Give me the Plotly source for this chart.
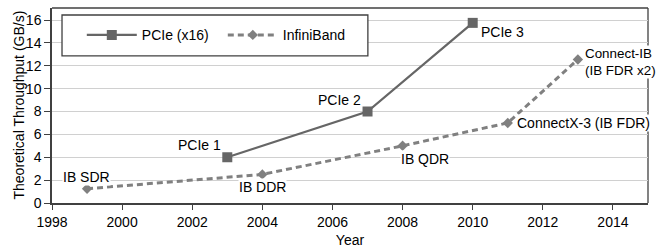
import plotly.graph_objects as go

# Data
pcie_years = [2003, 2007, 2010]
pcie_tput = [4, 8, 15.75]
pcie_labels = ["PCIe 1", "PCIe 2", "PCIe 3"]

ib_years = [1999, 2004, 2008, 2011, 2013]
ib_tput = [1.25, 2.5, 5, 7, 12.55]
ib_labels = ["IB SDR", "IB DDR", "IB QDR", "ConnectX-3 (IB FDR)", "Connect-IB<br>(IB FDR x2)"]

x_ticks = [1998, 2000, 2002, 2004, 2006, 2008, 2010, 2012, 2014]
y_ticks = [0, 2, 4, 6, 8, 10, 12, 14, 16]

FONT = "Liberation Sans, Arial, sans-serif"
FS = 14

fig = go.Figure()
fig.add_trace(go.Scatter(
    x=pcie_years, y=pcie_tput, name="PCIe (x16)", mode="lines+markers",
    line=dict(color="#666666", width=2.25),
    marker=dict(symbol="square", size=10, color="#666666"),
))
fig.add_trace(go.Scatter(
    x=ib_years, y=ib_tput, name="InfiniBand", mode="lines+markers",
    line=dict(color="#808080", width=3, dash="6px,4px"),
    marker=dict(symbol="diamond", size=8, color="#808080"),
))

# point labels: (xanchor, yanchor, xshift, yshift, size)
pcie_pos = [("right", "bottom", -4, 2, FS), ("right", "bottom", -5, 2, FS), ("left", "top", 6, 1, FS)]
for x, y, t, (xa, ya, xs, ys, fs) in zip(pcie_years, pcie_tput, pcie_labels, pcie_pos):
    fig.add_annotation(x=x, y=y, text=t, showarrow=False, xanchor=xa, yanchor=ya,
                       xshift=xs, yshift=ys, font=dict(size=fs, color="#000000", family=FONT))

ib_pos = [("center", "bottom", -1, 3, FS), ("center", "top", 0, -4, FS), ("left", "top", -3, -4, FS),
          ("left", "middle", 8, 0, FS), ("left", "middle", 6, -3, 13.4)]
for x, y, t, (xa, ya, xs, ys, fs) in zip(ib_years, ib_tput, ib_labels, ib_pos):
    fig.add_annotation(x=x, y=y, text=t, showarrow=False, xanchor=xa, yanchor=ya,
                       xshift=xs, yshift=ys, align="left", bgcolor="white", borderpad=0,
                       font=dict(size=fs, color="#000000", family=FONT))

# y axis title
fig.add_annotation(xref="paper", yref="paper", x=0, y=0.5, xshift=-34, textangle=-90,
                   text="Theoretical Throughput (GB/s)", showarrow=False,
                   xanchor="center", yanchor="middle",
                   font=dict(size=FS, color="#000000", family=FONT))

# top/right frame
fig.add_shape(type="line", xref="paper", yref="paper", x0=0, x1=1, y0=1, y1=1,
              line=dict(color="#404040", width=1.3), layer="below")
fig.add_shape(type="line", xref="paper", yref="paper", x0=1, x1=1, y0=0, y1=1,
              line=dict(color="#404040", width=1.3), layer="below")
# legend box
fig.add_shape(type="rect", xref="paper", yref="paper", x0=0.0168, x1=0.530, y0=0.754, y1=0.964,
              line=dict(color="#404040", width=1.3), fillcolor="white", layer="above")

fig.update_layout(
    width=658, height=249,
    margin=dict(l=52, r=10, t=8, b=46, autoexpand=False),
    paper_bgcolor="white", plot_bgcolor="white",
    font=dict(family=FONT, size=FS, color="#000000"),
    showlegend=True,
    legend=dict(orientation="h", x=0.050, y=0.86, xanchor="left", yanchor="middle",
                bgcolor="rgba(0,0,0,0)", borderwidth=0, itemwidth=50,
                entrywidth=76, font=dict(size=FS, family=FONT)),
    xaxis=dict(range=[1998, 2015], tickvals=x_ticks, ticks="outside", ticklen=5,
               tickcolor="#404040", showline=True, linecolor="#404040", linewidth=1.5,
               showgrid=False, zeroline=False, automargin=False,
               title=dict(text="Year", standoff=7, font=dict(size=FS))),
    yaxis=dict(range=[0, 17.05], tickvals=y_ticks, ticks="outside", ticklen=6,
               tickcolor="#404040", showline=True, linecolor="#404040", linewidth=1.5,
               showgrid=True, gridcolor="#d0d0d0", gridwidth=1, zeroline=False, automargin=False),
)

fig.write_html("out.html", config={"displayModeBar": False},
               post_script="document.body.style.margin='0';")
